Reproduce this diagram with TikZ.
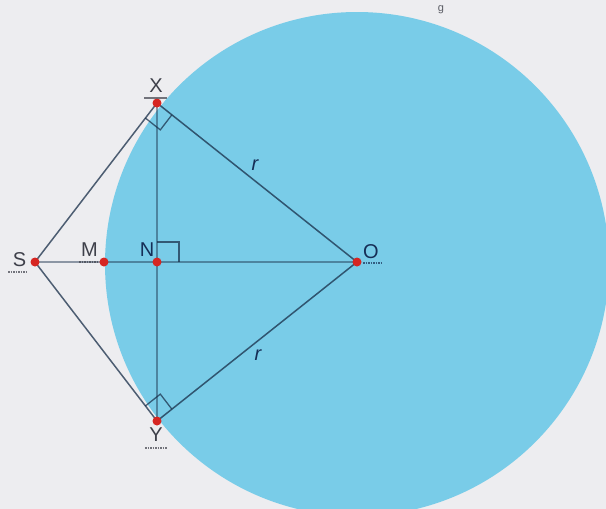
\documentclass[tikz,border=0pt]{standalone}
\usepackage{fontspec}
\setmainfont{Liberation Sans}
\usetikzlibrary{calc}
\definecolor{bgc}{RGB}{237,237,240}
\definecolor{circc}{RGB}{121,204,232}
\definecolor{linec}{RGB}{24,46,72}
\definecolor{dotred}{RGB}{214,38,34}
\definecolor{lblgray}{RGB}{62,64,74}
\definecolor{lblnavy}{RGB}{22,46,86}
\begin{document}
\begin{tikzpicture}[x=1pt,y=-1pt,
  lbl/.style={font=\fontsize{20}{20}\selectfont, text=lblgray, inner sep=0pt},
  navylbl/.style={lbl, text=lblnavy},
  rlbl/.style={font=\fontsize{20}{20}\selectfont\itshape, text=lblnavy, inner sep=0pt},
  dot/.style={circle, fill=dotred, inner sep=0pt, minimum size=9pt},
  seg/.style={draw=linec, line width=1.5pt, opacity=0.75},
  lightseg/.style={draw=linec, line width=1.1pt, opacity=0.45},
  ramark/.style={draw=linec, line width=1.3pt, opacity=0.72},
  ul/.style={draw=lblgray, line width=1.2pt, dash pattern=on 1.5pt off 1pt, opacity=0.7},
  ulnavy/.style={ul, draw=lblnavy}]
\clip (0,0) rectangle (606,509);
\fill[bgc] (0,0) rectangle (606,509);
\fill[circc] (357,264) circle[radius=252];
% points
\coordinate (S) at (35,262);
\coordinate (M) at (104,262);
\coordinate (N) at (157,262);
\coordinate (O) at (357,262);
\coordinate (X) at (157,103);
\coordinate (Y) at (157,421);
% fragment of text at top edge
\node[font=\fontsize{11}{11}\selectfont, text=lblgray!85, inner sep=0pt, anchor=north] (frag) at (441,5) {g};
% segments
\draw[lightseg] (S) -- (O);
\draw[lightseg] (X) -- (Y);
\draw[seg] (S) -- (X);
\draw[seg] (S) -- (Y);
\draw[seg] (X) -- (O);
\draw[seg] (Y) -- (O);
% right-angle marks
\coordinate (xs) at ($(X)!19pt!(S)$);
\coordinate (xo) at ($(X)!19pt!(O)$);
\draw[ramark] (xs) -- ($(xs)+(xo)-(X)$) -- (xo);
\coordinate (ys) at ($(Y)!19pt!(S)$);
\coordinate (yo) at ($(Y)!19pt!(O)$);
\draw[ramark] (ys) -- ($(ys)+(yo)-(Y)$) -- (yo);
\coordinate (nx) at ($(N)!20pt!(X)$);
\coordinate (no) at ($(N)!22pt!(O)$);
\draw[ramark] (nx) -- ($(nx)+(no)-(N)$) -- (no);
% dots
\foreach \p in {S,M,N,O,X,Y} \node[dot] (d\p) at (\p) {};
% labels
\node[lbl] (lS) at (19.5,259.5) {S};
\draw[ul] (8,272) -- (28,272);
\node[lbl] (lM) at (89.5,250) {M};
\draw[ul] (79,262) -- (98,262);
\node[navylbl] (lN) at (147,250) {N};
\node[lbl] (lX) at (156,86) {X};
\draw[ul, dash pattern=] (144,98) -- (167,98);
\node[lbl] (lY) at (156,435) {Y};
\draw[ul] (145,448) -- (167,448);
\node[navylbl] (lO) at (371,252) {O};
\draw[ulnavy] (363,263) -- (383,263);
\node[rlbl] (r1) at (255,165) {r};
\node[rlbl] (r2) at (258,355) {r};
\end{tikzpicture}
\end{document}
